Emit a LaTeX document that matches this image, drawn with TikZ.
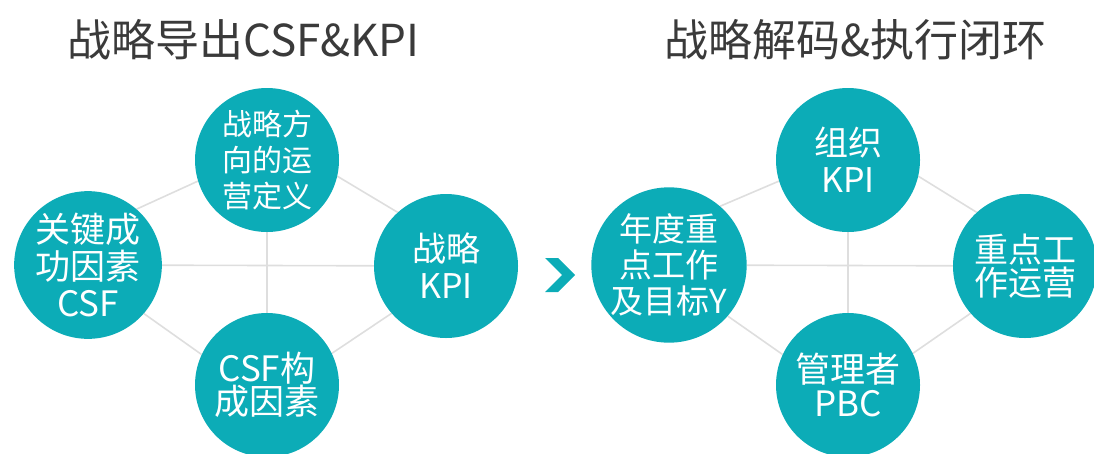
\documentclass[tikz,border=0pt]{standalone}
\usepackage{fontspec}
\newfontfamily\cjk{Noto Sans CJK SC}
\usetikzlibrary{backgrounds}
\definecolor{teal1}{RGB}{12,172,183}
\definecolor{linegray}{RGB}{222,222,222}
\definecolor{titlegray}{RGB}{58,58,58}
\tikzset{
  bubble/.style={circle, fill=teal1, minimum size=144pt, inner sep=0pt, text=white, align=center,
    font=\cjk\fontsize{34}{35}\selectfont},
  link/.style={draw=linegray, line width=1.6pt},
  title/.style={anchor=base west, inner sep=0pt, text=titlegray, font=\cjk\fontsize{44}{48}\selectfont}
}
\begin{document}
\begin{tikzpicture}[x=1pt,y=-1pt]
\useasboundingbox (0,0) rectangle (1094,453);
\node[title] (t1) at (67,56) {战略导出CSF\&KPI};
\node[title] (t2) at (664,56) {战略解码\&执行闭环};
% left group
\node[bubble, font=\cjk\fontsize{30}{36}\selectfont] (T) at (267,160) {战略方\\向的运\\营定义};
\node[bubble, font=\cjk\fontsize{35}{37}\selectfont] (L) at (88,265) {关键成\\功因素\\CSF};
\node[bubble, font=\cjk\fontsize{34}{37}\selectfont] (R) at (446,266) {战略\\KPI};
\node[bubble, font=\cjk\fontsize{35}{33}\selectfont] (B) at (267,385) {CSF构\\成因素};
% right group
\node[bubble, font=\cjk\fontsize{34}{37}\selectfont] (T2) at (848,160) {组织\\KPI};
\node[bubble, font=\cjk\fontsize{33}{36}\selectfont] (L2) at (669,265) {年度重\\点工作\\及目标Y};
\node[bubble, font=\cjk\fontsize{34}{33}\selectfont] (R2) at (1025,266) {重点工\\作运营};
\node[bubble, font=\cjk\fontsize{35}{34}\selectfont] (B2) at (848,385) {管理者\\PBC};
\begin{pgfonlayer}{background}
\draw[link] (L) -- (R);
\draw[link] (T) -- (B);
\draw[link] (L.49) -- (T.197);
\draw[link] (T.-13) -- (R.132);
\draw[link] (L.-41) -- (B.155);
\draw[link] (B.26) -- (R.221);
\draw[link] (L2) -- (R2);
\draw[link] (T2) -- (B2);
\draw[link] (L2.49) -- (T2.197);
\draw[link] (T2.-13) -- (R2.132);
\draw[link] (L2.-41) -- (B2.155);
\draw[link] (B2.26) -- (R2.221);
\end{pgfonlayer}
% chevron
\fill[teal1] (545,258) -- (558,258) -- (575,275) -- (558,292) -- (545,292) -- (562,275) -- cycle;
\end{tikzpicture}
\end{document}
